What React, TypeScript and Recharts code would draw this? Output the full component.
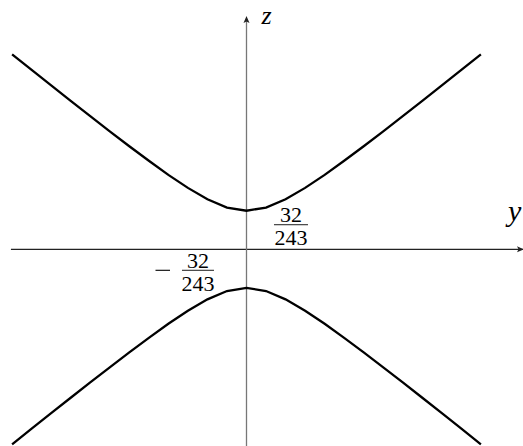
import { ComposedChart, Line, XAxis, YAxis, ReferenceLine, ReferenceDot } from "recharts";

// sample positions along the y axis
const Y_SAMPLES = [
  -0.8, -0.7333, -0.6667, -0.6, -0.5333, -0.4667, -0.4, -0.3333, -0.2667, -0.2, -0.1333, -0.0667, 0,
  0.0667, 0.1333, 0.2, 0.2667, 0.3333, 0.4, 0.4667, 0.5333, 0.6, 0.6667, 0.7333, 0.8,
];

// upper branch heights and the mirrored lower branch
const Z_UPPER = [
  0.6655, 0.6123, 0.5594, 0.5067, 0.4544, 0.4027, 0.3518, 0.3021, 0.2542, 0.2096, 0.1708, 0.1425, 0.1317,
  0.1425, 0.1708, 0.2096, 0.2542, 0.3021, 0.3518, 0.4027, 0.4544, 0.5067, 0.5594, 0.6123, 0.6655,
];
const Z_LOWER = [
  -0.6655, -0.6123, -0.5594, -0.5067, -0.4544, -0.4027, -0.3518, -0.3021, -0.2542, -0.2096, -0.1708, -0.1425, -0.1317,
  -0.1425, -0.1708, -0.2096, -0.2542, -0.3021, -0.3518, -0.4027, -0.4544, -0.5067, -0.5594, -0.6123, -0.6655,
];

const VERTEX = 32 / 243;
const Y_DOMAIN = [-0.8413, 0.9437];
const Z_DOMAIN = [-0.6713, 0.8509];
const H_AXIS_START = -0.804;
const V_AXIS_TOP = 0.796;

const data = Y_SAMPLES.map((y, i) => ({ y, up: Z_UPPER[i], low: Z_LOWER[i] }));

const serif = "'Liberation Serif', 'DejaVu Serif', serif";

function UpArrow({ cx, cy }: any) {
  return <path d={`M${cx},${cy} L${cx - 3},${cy + 7} L${cx},${cy + 5.5} L${cx + 3},${cy + 7} Z`} fill="#222" />;
}

function RightArrow({ cx, cy }: any) {
  return <path d={`M${cx + 1},${cy} L${cx - 6},${cy - 3} L${cx - 4.5},${cy} L${cx - 6},${cy + 3} Z`} fill="#222" />;
}

function ZLabel({ cx, cy }: any) {
  return (
    <text x={cx + 15} y={cy + 8} fontFamily={serif} fontStyle="italic" fontSize={26} fill="#000">
      z
    </text>
  );
}

function YLabel({ cx, cy }: any) {
  return (
    <text x={cx - 15} y={cy - 28} fontFamily={serif} fontStyle="italic" fontSize={30} fill="#000">
      y
    </text>
  );
}

function Frac({ x, y, num, den, width }: { x: number; y: number; num: string; den: string; width: number }) {
  return (
    <g fontFamily={serif} fontSize={22} fill="#000">
      <text x={x} y={y - 2.5} textAnchor="middle">{num}</text>
      <line x1={x - width / 2} x2={x + width / 2} y1={y} y2={y} stroke="#000" strokeWidth={0.9} />
      <text x={x} y={y + 20.5} textAnchor="middle">{den}</text>
    </g>
  );
}

function TopValue({ cx, cy }: any) {
  return <Frac x={cx + 44.5} y={cy + 14} num="32" den="243" width={34} />;
}

function BottomValue({ cx, cy }: any) {
  return (
    <g>
      <line x1={cx - 91} x2={cx - 76.5} y1={cy - 17.6} y2={cy - 17.6} stroke="#000" strokeWidth={1.1} />
      <Frac x={cx - 48.5} y={cy - 17.6} num="32" den="243" width={32} />
    </g>
  );
}

export default function App() {
  return (
    <div style={{ position: "absolute", left: 0, top: 0, background: "#fff" }}>
      <ComposedChart width={523} height={446} data={data} margin={{ top: 0, right: 0, bottom: 0, left: 0 }}>
        <XAxis type="number" dataKey="y" domain={Y_DOMAIN} allowDataOverflow hide />
        <YAxis type="number" domain={Z_DOMAIN} allowDataOverflow hide />
        <ReferenceLine
          segment={[{ x: H_AXIS_START, y: 0 }, { x: Y_DOMAIN[1], y: 0 }]}
          stroke="#222"
          strokeWidth={1.2}
        />
        <ReferenceLine
          segment={[{ x: 0, y: Z_DOMAIN[0] }, { x: 0, y: V_AXIS_TOP - 0.01 }]}
          stroke="#777"
          strokeWidth={1.3}
        />
        <Line dataKey="up" type="linear" stroke="#000" strokeWidth={2.3} dot={false} activeDot={false} isAnimationActive={false} />
        <Line dataKey="low" type="linear" stroke="#000" strokeWidth={2.3} dot={false} activeDot={false} isAnimationActive={false} />
        <ReferenceDot x={0} y={V_AXIS_TOP} shape={UpArrow} ifOverflow="visible" />
        <ReferenceDot x={Y_DOMAIN[1]} y={0} shape={RightArrow} ifOverflow="visible" />
        <ReferenceDot x={0} y={V_AXIS_TOP} shape={ZLabel} ifOverflow="visible" />
        <ReferenceDot x={Y_DOMAIN[1]} y={0} shape={YLabel} ifOverflow="visible" />
        <ReferenceDot x={0} y={VERTEX} shape={TopValue} ifOverflow="visible" />
        <ReferenceDot x={0} y={-VERTEX} shape={BottomValue} ifOverflow="visible" />
      </ComposedChart>
    </div>
  );
}
